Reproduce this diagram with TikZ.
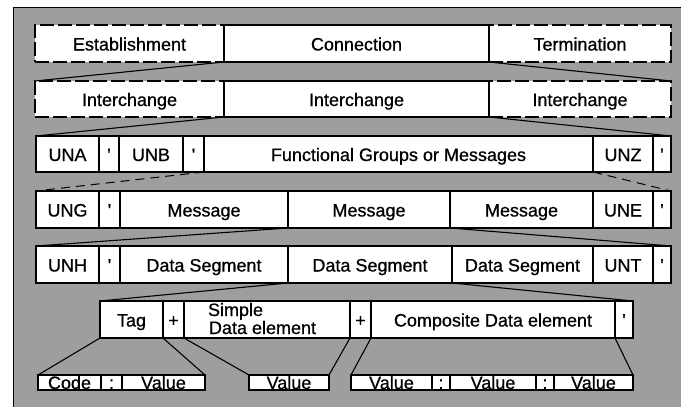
\documentclass[tikz,border=0pt]{standalone}
\usepackage{fontspec}
\setmainfont{Liberation Sans}
\newfontfamily\heavysans[FakeBold=0.7]{Liberation Sans}
\newcommand\mkcell[7][]{%
  \node[cell,#1,minimum width={(#5)-(#3)},minimum height={(#6)-(#4)}] (#2)
    at ({((#3)+(#5))/2},{-((#4)+(#6))/2}) {#7};}
\tikzset{
  cell/.style={draw=black,fill=white,line width=1.1pt,inner sep=0pt,outer sep=0pt,
    font=\heavysans\fontsize{18}{20}\selectfont,text height=14pt,text depth=0pt},
  dashcell/.style={dash pattern=on 14pt off 4pt},
  lowcell/.style={text height=13pt},
  link/.style={line width=1.1pt},
  dashlink/.style={line width=1pt,dash pattern=on 9pt off 6pt},
  txt/.style={inner sep=0pt,outer sep=0pt,font=\heavysans\fontsize{18}{20}\selectfont},
}
\begin{document}
\begin{tikzpicture}[x=1pt,y=1pt]
\useasboundingbox (0,0) rectangle (681,-407);
\fill[black!38] (13,-7) rectangle (681,-407);
\draw[line width=1pt] (13,-407) -- (13,-7) -- (681,-7);
% row 1
\mkcell[dashcell]{est}{35}{25}{224}{62}{Establishment}
\mkcell[dashcell]{term}{489}{25}{671}{62}{Termination}
\mkcell{conn}{224}{25}{489}{62}{Connection}
% row 2
\mkcell[dashcell]{ia}{35}{81}{224}{117}{Interchange}
\mkcell[dashcell]{ic}{489}{81}{671}{117}{Interchange}
\mkcell{ib}{224}{81}{489}{117}{Interchange}
% row 3
\mkcell{una}{36}{136}{99}{172}{UNA}
\mkcell{qa}{99}{136}{119}{172}{'}
\mkcell{unb}{119}{136}{183}{172}{UNB}
\mkcell{qb}{183}{136}{204}{172}{'}
\mkcell{func}{204}{136}{593}{172}{Functional Groups or Messages}
\mkcell{unz}{593}{136}{653}{172}{UNZ}
\mkcell{qc}{653}{136}{671}{172}{'}
% row 4
\mkcell{ung}{36}{191}{99}{228}{UNG}
\mkcell{qd}{99}{191}{120}{228}{'}
\mkcell{msga}{120}{191}{288}{228}{Message}
\mkcell{msgb}{288}{191}{450}{228}{Message}
\mkcell{msgc}{450}{191}{593}{228}{Message}
\mkcell{une}{593}{191}{653}{228}{UNE}
\mkcell{qe}{653}{191}{671}{228}{'}
% row 5
\mkcell{unh}{36}{246}{99}{283}{UNH}
\mkcell{qf}{99}{246}{120}{283}{'}
\mkcell{dsa}{120}{246}{288}{283}{Data Segment}
\mkcell{dsb}{288}{246}{452}{283}{Data Segment}
\mkcell{dsc}{452}{246}{593}{283}{Data Segment}
\mkcell{unt}{593}{246}{653}{283}{UNT}
\mkcell{qg}{653}{246}{671}{283}{'}
% row 6
\mkcell{tag}{100}{301}{163}{338}{Tag}
\mkcell{pa}{163}{301}{184}{338}{+}
\mkcell{simple}{184}{301}{350}{338}{}
\mkcell{pb}{350}{301}{371}{338}{+}
\mkcell{comp}{371}{301}{615}{338}{Composite Data element}
\mkcell{qh}{615}{301}{633}{338}{'}
\node[txt,anchor=base west] (simpleA) at (208,-316) {Simple};
\node[txt,anchor=base west] (simpleB) at (209,-334) {Data element};
% row 7
\mkcell[lowcell]{code}{38}{375}{101}{390}{Code}
\mkcell[lowcell]{cola}{101}{375}{122}{390}{:}
\mkcell[lowcell]{va}{122}{375}{205}{390}{Value}
\mkcell[lowcell]{vb}{249}{375}{329}{390}{Value}
\mkcell[lowcell]{vc}{351}{375}{432}{390}{Value}
\mkcell[lowcell]{colb}{432}{375}{450}{390}{:}
\mkcell[lowcell]{vd}{450}{375}{536}{390}{Value}
\mkcell[lowcell]{colc}{536}{375}{554}{390}{:}
\mkcell[lowcell]{ve}{554}{375}{633}{390}{Value}
% connectors
\draw[link] (conn.south west) -- (ia.north west);
\draw[link] (conn.south east) -- (ic.north east);
\draw[link] (ib.south west) -- (una.north west);
\draw[link] (ib.south east) -- (qc.north east);
\draw[dashlink] (func.south west) -- (ung.north west);
\draw[dashlink] (func.south east) -- (qe.north east);
\draw[link] (msgb.south west) -- (unh.north west);
\draw[link] (msgb.south east) -- (qg.north east);
\draw[link] (dsb.south west) -- (tag.north west);
\draw[link] (dsb.south east) -- (qh.north east);
\draw[link] (tag.south west) -- (code.north west);
\draw[link] (tag.south east) -- (va.north east);
\draw[link] (pa.south east) -- (vb.north west);
\draw[link] (simple.south east) -- (vb.north east);
\draw[link] (comp.south west) -- (vc.north west);
\draw[link] (comp.south east) -- (ve.north east);
\end{tikzpicture}
\end{document}
